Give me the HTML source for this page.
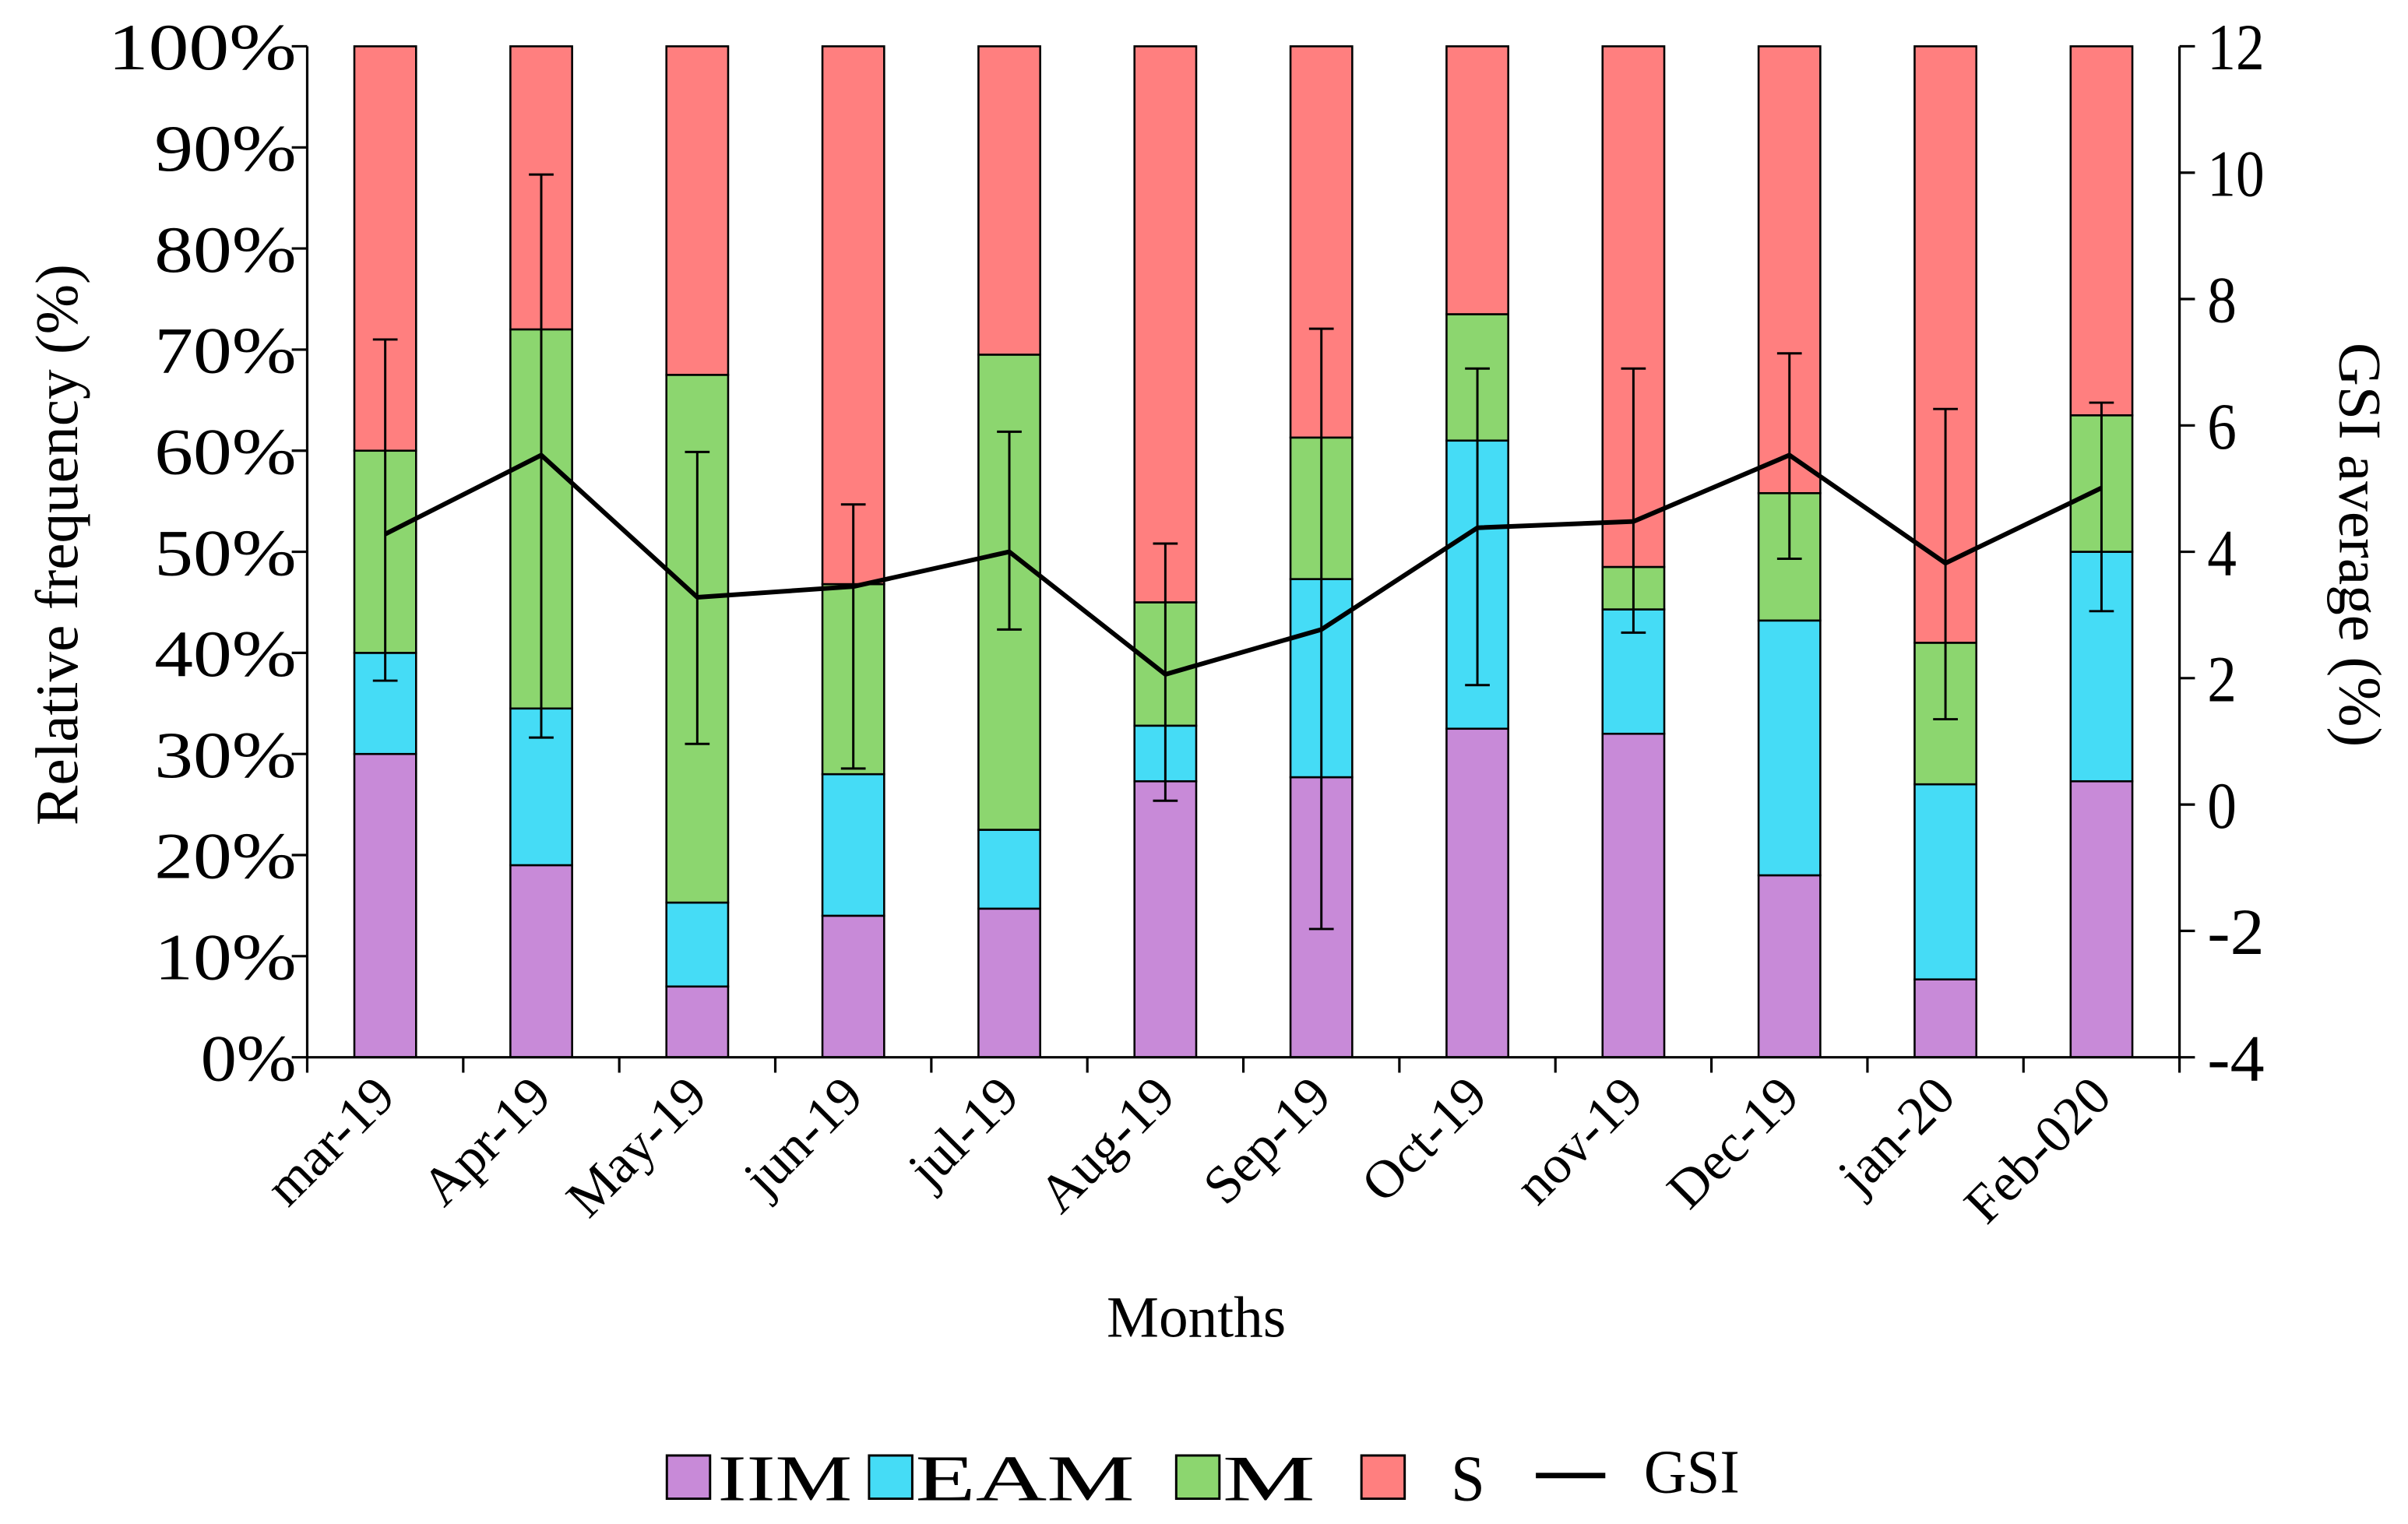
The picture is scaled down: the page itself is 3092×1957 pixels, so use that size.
<!DOCTYPE html>
<html><head><meta charset="utf-8"><style>
html,body{margin:0;padding:0;background:#fff;}
svg{display:block;}
text{font-family:"Liberation Serif",serif;fill:#000;}
</style></head><body>
<svg id="chart" width="3092" height="1957" viewBox="0 0 1560 987.4" xmlns="http://www.w3.org/2000/svg">
<g id="plot"></g>
<text x="0" y="0" font-size="39" text-anchor="middle" transform="translate(50,353) rotate(-90)">Relative frequency (%)</text>
<text x="0" y="0" font-size="39" text-anchor="middle" transform="translate(1516,353) rotate(90)">GSI average (%)</text>
<text x="775" y="866" font-size="38" text-anchor="middle">Months</text>
<g>
  <rect x="432" y="943" width="28" height="28" fill="#c88ad8" stroke="#000" stroke-width="1.5"/>
  <text x="465" y="972" font-size="42" textLength="87" lengthAdjust="spacingAndGlyphs">IIM</text>
  <rect x="563" y="943" width="28" height="28" fill="#45dcf6" stroke="#000" stroke-width="1.5"/>
  <text x="593" y="972" font-size="42" textLength="142" lengthAdjust="spacingAndGlyphs">EAM</text>
  <rect x="762" y="943" width="28" height="28" fill="#8cd66f" stroke="#000" stroke-width="1.5"/>
  <text x="792" y="972" font-size="42" textLength="60" lengthAdjust="spacingAndGlyphs">M</text>
  <rect x="882" y="943" width="28" height="28" fill="#ff7f7f" stroke="#000" stroke-width="1.5"/>
  <text x="940" y="972" font-size="42" textLength="22" lengthAdjust="spacingAndGlyphs">S</text>
  <line x1="995" y1="956" x2="1040" y2="956" stroke="#000" stroke-width="3.5"/>
  <text x="1065" y="967" font-size="40" textLength="62" lengthAdjust="spacingAndGlyphs">GSI</text>
</g>
</svg>
<script>
const categories = ["mar-19","Apr-19","May-19","jun-19","jul-19","Aug-19","Sep-19","Oct-19","nov-19","Dec-19","jan-20","Feb-020"];
const iim = [30,19,7,14,14.7,27.3,27.7,32.5,32,18,7.7,27.3];
const eam = [10,15.5,8.3,14,7.8,5.5,19.6,28.5,12.3,25.2,19.3,22.7];
const mm  = [20,37.5,52.2,18.8,47,12.2,14,12.5,4.2,12.6,14,13.5];
const ss  = [40,28,32.5,53.2,30.5,55,38.7,26.5,51.5,44.2,59,36.5];
const gsi = [4.28,5.53,3.28,3.45,4.0,2.06,2.77,4.38,4.48,5.53,3.82,5.01];
const gsiHigh = [7.36,9.97,5.58,4.75,5.9,4.13,7.53,6.9,6.9,7.14,6.26,6.36];
const gsiLow = [1.96,1.06,0.96,0.57,2.77,0.06,-1.97,1.89,2.72,3.89,1.35,3.06];
const leftTicks = [0,10,20,30,40,50,60,70,80,90,100];
const rightTicks = [-4,-2,0,2,4,6,8,10,12];

const NS = "http://www.w3.org/2000/svg";
const plot = document.getElementById('plot');
const L = 199, R = 1412, T = 30, B = 685;
const band = (R - L) / categories.length;
const bw = 40;
function xc(i){ return L + band * (i + 0.5); }
function yL(v){ return B - (B - T) * v / 100; }
function yR(v){ return B - (B - T) * (v + 4) / 16; }
function mk(tag, attrs){ const e = document.createElementNS(NS, tag); for (const k in attrs) e.setAttribute(k, attrs[k]); plot.appendChild(e); return e; }

const series = [[iim,"#c88ad8","iim"],[eam,"#45dcf6","eam"],[mm,"#8cd66f","m"],[ss,"#ff7f7f","s"]];
categories.forEach((c, i) => {
  let base = 0;
  series.forEach(([arr, col, nm]) => {
    const v = arr[i];
    const r = mk('rect', {x: xc(i) - bw/2, y: yL(base + v), width: bw, height: yL(base) - yL(base + v), fill: col, stroke: "#000", "stroke-width": 1.3});
    
    
    base += v;
  });
});

let a = mk('line', {x1: L, y1: T, x2: L, y2: B, stroke: "#000", "stroke-width": 1.6});


a = mk('line', {x1: R, y1: T, x2: R, y2: B, stroke: "#000", "stroke-width": 1.6});


a = mk('line', {x1: L, y1: B, x2: R, y2: B, stroke: "#000", "stroke-width": 1.6});



leftTicks.forEach(t => {
  const y = yL(t);
  const l = mk('line', {x1: L - 10, y1: y, x2: L, y2: y, stroke: "#000", "stroke-width": 1.6});
  
  
  const s = t + '%';
  const tx = mk('text', {x: 192, y: y + 15, "font-size": 43, "text-anchor": "end", textLength: 30 * (s.length - 1) + 32, lengthAdjust: "spacingAndGlyphs"});
  tx.textContent = s;
  
  
});
rightTicks.forEach(t => {
  const y = yR(t);
  const l = mk('line', {x1: R, y1: y, x2: R + 10, y2: y, stroke: "#000", "stroke-width": 1.6});
  
  
  const s = t < 0 ? '-' + Math.abs(t) : String(t);
  const tx = mk('text', {x: 1430, y: y + 15, "font-size": 43, "text-anchor": "start", textLength: s.length === 1 ? 19 : 37, lengthAdjust: "spacingAndGlyphs"});
  tx.textContent = s;
  
  
});
for (let i = 0; i <= categories.length; i++) {
  const x = L + band * i;
  const l = mk('line', {x1: x, y1: B, x2: x, y2: B + 10, stroke: "#000", "stroke-width": 1.6});
  
  
}
categories.forEach((c, i) => {
  const x = xc(i) + 8, y = 712;
  const tx = mk('text', {x: 0, y: 0, "font-size": 35, "text-anchor": "end", transform: `translate(${x},${y}) rotate(-45)`});
  tx.textContent = c;
  
  
});

categories.forEach((c, i) => {
  const x = xc(i);
  const e = mk('line', {x1: x, y1: yR(gsiHigh[i]), x2: x, y2: yR(gsiLow[i]), stroke: "#000", "stroke-width": 1.5});
  
  
  [gsiHigh[i], gsiLow[i]].forEach(v => {
    const cap = mk('line', {x1: x - 8, y1: yR(v), x2: x + 8, y2: yR(v), stroke: "#000", "stroke-width": 1.5});
    
    
  });
});
const pts = gsi.map((v, i) => xc(i) + ',' + yR(v)).join(' ');
const pl = mk('polyline', {points: pts, fill: "none", stroke: "#000", "stroke-width": 3, "stroke-linejoin": "round"});


</script>
</body></html>
